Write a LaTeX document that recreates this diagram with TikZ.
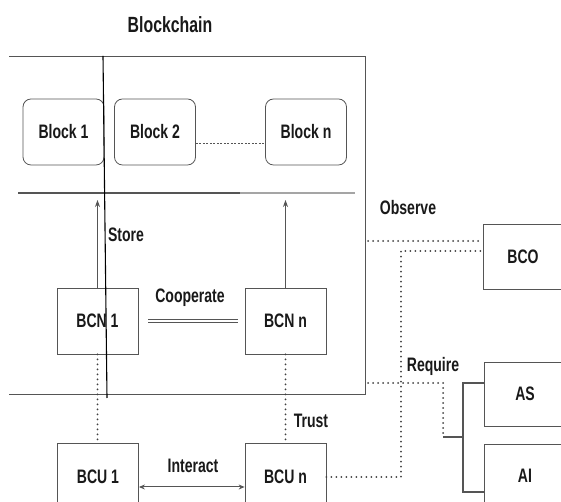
\documentclass[tikz,border=0pt]{standalone}
\usepackage{fontspec}
\setmainfont[FakeStretch=0.72]{Liberation Sans}
\definecolor{bcgray}{RGB}{85,85,85}
\definecolor{bclight}{RGB}{165,165,165}
\definecolor{bctext}{RGB}{25,25,25}
\usetikzlibrary{arrows.meta,positioning}

\begin{document}
\begin{tikzpicture}[
  x=10pt, y=10pt,
  every node/.style={font=\fontsize{19.5}{22}\selectfont\bfseries,text=bctext},
  blockbox/.style={draw=bcgray,rounded corners=8pt,minimum width=81pt,
                   minimum height=66pt,line width=0.8pt},
  entbox/.style={draw=bcgray,minimum width=81pt,minimum height=66pt,
                 line width=0.8pt},
  arr/.style={-{Stealth[length=7pt,width=5pt]},bcgray,line width=0.8pt},
  dots/.style={black!75,line width=2pt,line cap=round,
               dash pattern=on 0pt off 5pt},
  bracket/.style={bcgray,line width=1.8pt},
]
  \useasboundingbox (0,0) rectangle (56.1,50.2);
  \clip (0,0) rectangle (56.1,50.2);

  % Chain frame
  \node[font=\fontsize{22}{26}\selectfont\bfseries] (title) at (17.0,47.7) {Blockchain};
  \draw[bcgray,line width=0.8pt] (0.9,44.6) -- (36.5,44.6) -- (36.5,10.8) -- (0.9,10.8);
  \draw[bcgray,line width=1.6pt] (1.8,30.9) -- (24.0,30.9);
  \draw[bclight,line width=1.6pt] (24.0,30.9) -- (35.5,30.9);
  \coordinate (chain) at (0,30.2);

  % Blocks
  \node[blockbox] (b1) at (6.35,37.0) {Block 1};
  \node[blockbox] (b2) at (15.5,37.0) {Block 2};
  \node[blockbox] (bn) at (30.6,37.0) {Block n};
  \draw[bcgray,line width=0.8pt,dash pattern=on 2pt off 1.5pt]
    ([yshift=-11pt]b2.east) -- ([yshift=-11pt]bn.west);

  % Nodes
  \node[entbox] (bcn1) at (9.75,18.1) {BCN 1};
  \node[entbox] (bcnn) at (28.55,18.1) {BCN n};
  \draw[arr] (bcn1.north) -- (bcn1.north |- chain);
  \draw[arr] (bcnn.north) -- (bcnn.north |- chain);
  \node (store) at (12.6,26.7) {Store};
  \draw[bcgray,line width=0.7pt,double,double distance=2pt,
        shorten <=10pt,shorten >=7pt] (bcn1) -- (bcnn);
  \node (coop) at (19.0,20.4) {Cooperate};

  % Users
  \node[entbox,minimum height=68pt] (bcu1) at (9.8,2.5) {BCU 1};
  \node[entbox,minimum height=68pt] (bcun) at (28.55,2.5) {BCU n};
  \draw[dots] (bcn1.south) -- (bcn1.south |- bcu1.north);
  \draw[dots] (bcnn.south) -- (bcnn.south |- bcun.north);
  \node (trust) at (31.1,8.1) {Trust};
  \draw[{Stealth[length=6pt,width=5pt]}-{Stealth[length=6pt,width=5pt]},bcgray,line width=1pt]
    ([yshift=-10pt]bcu1.east) -- ([yshift=-10pt]bcun.west);
  \node (inter) at (19.3,3.6) {Interact};

  % Observer and services
  \node[entbox,minimum width=80pt,minimum height=65pt] (bco) at (52.3,24.55) {BCO};
  \node[entbox,minimum width=82pt,minimum height=64pt] (as) at (52.5,10.8) {AS};
  \node[entbox,minimum width=82pt,minimum height=64pt] (ai) at (52.5,2.6) {AI};

  \coordinate (obs) at (36.8,26.1);
  \draw[dots] (obs) -- (obs -| bco.west);
  \node (observe) at (40.8,29.4) {Observe};

  \coordinate (req) at (40.1,25.1);
  \draw[dots] (bcun.east) -| (req) -- (req -| bco.west);

  \coordinate (need) at (36.8,11.9);
  \coordinate (drop) at (44.3,6.5);
  \coordinate (fork) at (46.3,6.5);
  \draw[dots] (need) -| (drop);
  \draw[bracket] (drop) -- (fork);
  \draw[bracket] (as.west |- need) -| (fork) |- ([yshift=-16pt]ai.west);
  \node (require) at (43.3,13.6) {Require};

  % Divider across the chain
  \draw[black,line width=1.1pt] (10.3,44.6) -- (10.7,10.4);
\end{tikzpicture}
\end{document}
